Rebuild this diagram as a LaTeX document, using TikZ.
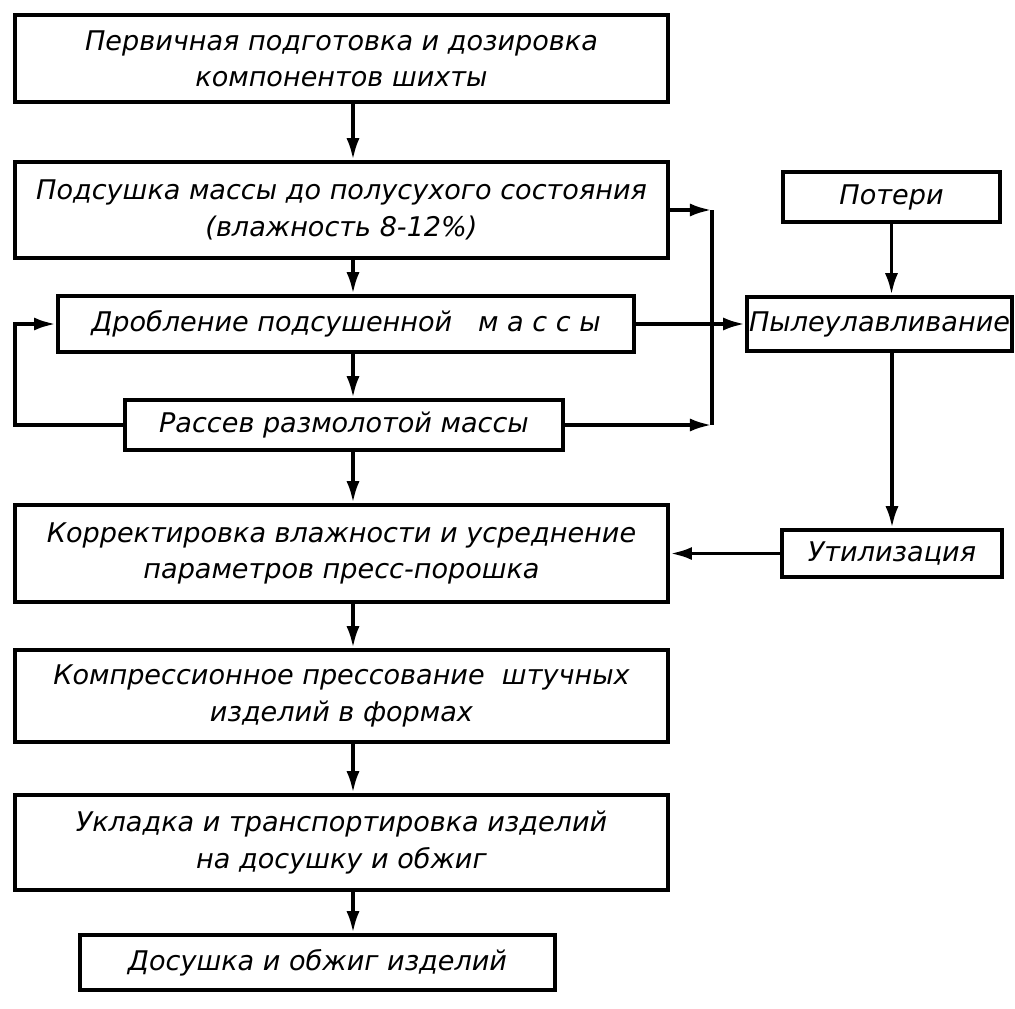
\documentclass[tikz,border=0pt]{standalone}
\usepackage{fontspec}
\setmainfont{DejaVu Sans}
\usetikzlibrary{arrows.meta}

\begin{document}
\begin{tikzpicture}
[
    x=0.01cm, y=-0.01cm,
    every node/.style={font=\fontsize{7.7}{10.3}\selectfont\itshape},
    stage/.style={draw, line width=1pt, align=center, inner sep=0pt, minimum width=6.53cm},
    side/.style={draw, line width=1pt, align=center, inner sep=0pt},
    flow/.style={line width=1.1pt, -{Latex[length=2.2mm,width=1.3mm]}},
    link/.style={line width=1.1pt},
]
\useasboundingbox (0,0) rectangle (1015,1009);
\coordinate (spine) at (353,0);
\coordinate (loop) at (15,0);
\coordinate (bus) at (712,0);

\node [stage, minimum height=0.87cm] (prep) at (341.5,58.5)
{Первичная подготовка и дозировка\\компонентов шихты};
\node [stage, minimum height=0.96cm] (dry) at (341.5,210)
{Подсушка массы до полусухого состояния\\(влажность 8-12\%)};
\node [stage, minimum width=5.76cm, minimum height=0.56cm] (crush) at (346,324)
{Дробление подсушенной ~ м а с с ы};
\node [stage, minimum width=4.38cm, minimum height=0.50cm] (sieve) at (344,425)
{Рассев размолотой массы};
\node [stage, minimum height=0.97cm] (moist) at (341.5,553.5)
{Корректировка влажности и усреднение\\параметров пресс-порошка};
\node [stage, minimum height=0.92cm] (press) at (341.5,696)
{Компрессионное прессование ~штучных\\изделий в формах};
\node [stage, minimum height=0.95cm] (stack) at (341.5,842.5)
{Укладка и транспортировка изделий\\на досушку и обжиг};
\node [stage, minimum width=4.75cm, minimum height=0.55cm] (fire) at (317.5,962.5)
{Досушка и обжиг изделий};

\node [side, minimum width=2.17cm, minimum height=0.50cm] (loss) at (891.5,197)
{Потери};
\node [side, minimum width=2.65cm, minimum height=0.54cm] (dust) at (879.5,324)
{Пылеулавливание};
\node [side, minimum width=2.20cm, minimum height=0.47cm] (reuse) at (892,553.5)
{Утилизация};

\draw [flow] (prep.south -| spine) -- (dry.north -| spine);
\draw [flow] (dry.south -| spine) -- (crush.north -| spine);
\draw [flow] (crush.south -| spine) -- (sieve.north -| spine);
\draw [flow] (sieve.south -| spine) -- (moist.north -| spine);
\draw [flow] (moist.south -| spine) -- (press.north -| spine);
\draw [flow] (press.south -| spine) -- (stack.north -| spine);
\draw [flow] (stack.south -| spine) -- (fire.north -| spine);

\draw [flow] (sieve.west) -- (sieve.west -| loop) |- (crush.west);

\draw [flow] (dry.east) -- (dry.east -| bus);
\draw [link] (dry.east -| bus) -- (sieve.east -| bus);
\draw [flow] (sieve.east) -- (sieve.east -| bus);
\draw [flow] (crush.east) -- (dust.west);

\draw [flow] (loss.south) -- (loss.south |- dust.north);
\draw [flow] (reuse.north |- dust.south) -- (reuse.north);
\draw [flow] (reuse.west) -- (moist.east);
\end{tikzpicture}
\end{document}
